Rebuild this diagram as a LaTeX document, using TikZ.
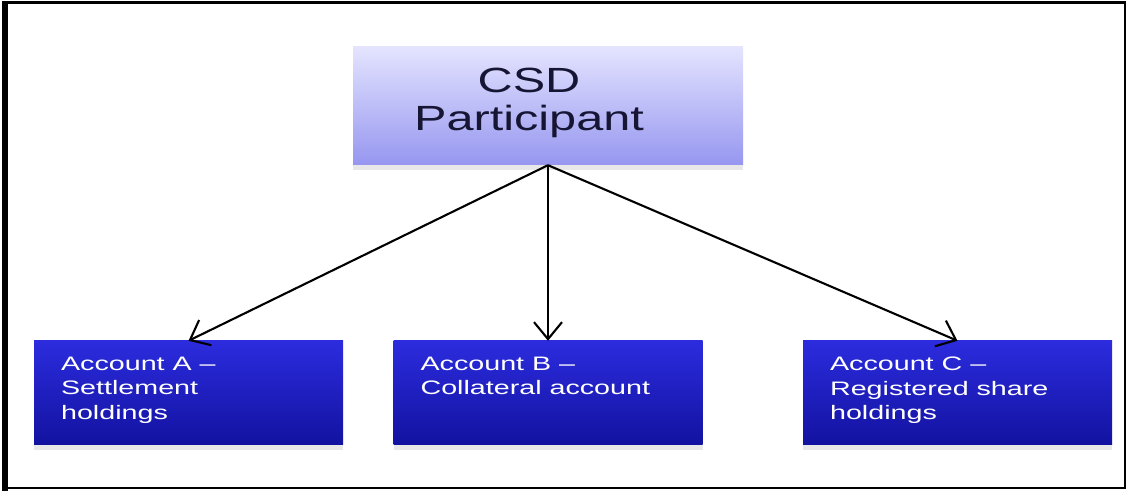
\documentclass[tikz,border=0pt]{standalone}
\usepackage{fontspec}
\setmainfont{Liberation Sans}
\usetikzlibrary{arrows.meta}
\usetikzlibrary{shadows}
\definecolor{lavtop}{RGB}{228,228,255}
\definecolor{lavbot}{RGB}{150,150,240}
\definecolor{acctop}{RGB}{44,44,222}
\definecolor{accbot}{RGB}{18,18,160}
\definecolor{navytext}{RGB}{22,22,52}
\tikzset{%
  myarrow/.style={-{Straight Barb[length=17pt, width=28pt]}, line width=2.1pt},
  topbox/.style={rectangle, inner sep=0pt, minimum width=390pt, minimum height=118pt,
    top color=lavtop, bottom color=lavbot,
    drop shadow={shadow xshift=0pt, shadow yshift=-5pt, opacity=0.18}},
  accbox/.style={rectangle, inner sep=0pt, minimum width=309pt, minimum height=104pt,
    top color=acctop, bottom color=accbot,
    drop shadow={shadow xshift=0pt, shadow yshift=-5pt, opacity=0.18}},
  toptext/.style={inner sep=0pt, align=center, text=navytext, xscale=1.39, transform shape,
    font=\fontsize{35}{38}\selectfont},
  acctext/.style={anchor=north west, inner sep=0pt, align=left, text=white,
    xscale=1.47, transform shape, font=\fontsize{19.5}{24.5}\selectfont}
}

\begin{document}
\begin{tikzpicture}[x=1pt, y=1pt]
  \useasboundingbox (0,0) rectangle (1131,494);

% frame
\draw [line width=2.5pt] (5,6) rectangle (1125,491.5);
\draw [line width=6pt] (5,3) -- (5,492.5);

\node [topbox] (top) at (548,388) {};
\node [toptext] (toplabel) at (529,391) {CSD\\Participant};

% account boxes
\foreach \n / \x / \txt in {A/188.5/{Account A --\\Settlement\\holdings},
                            B/548/{Account B --\\Collateral account},
                            C/957.5/{Account C --\\Registered share\\holdings}}{
  \node [accbox] (acc\n) at (\x,101) {};
  \node [acctext] (acc\n label) at ([shift={(27,-16)}]acc\n.north west) {\txt};
}

\foreach \n in {A,B,C} {
  \draw [myarrow] (top.south) -- (acc\n.north);
}

\end{tikzpicture}
\end{document}
